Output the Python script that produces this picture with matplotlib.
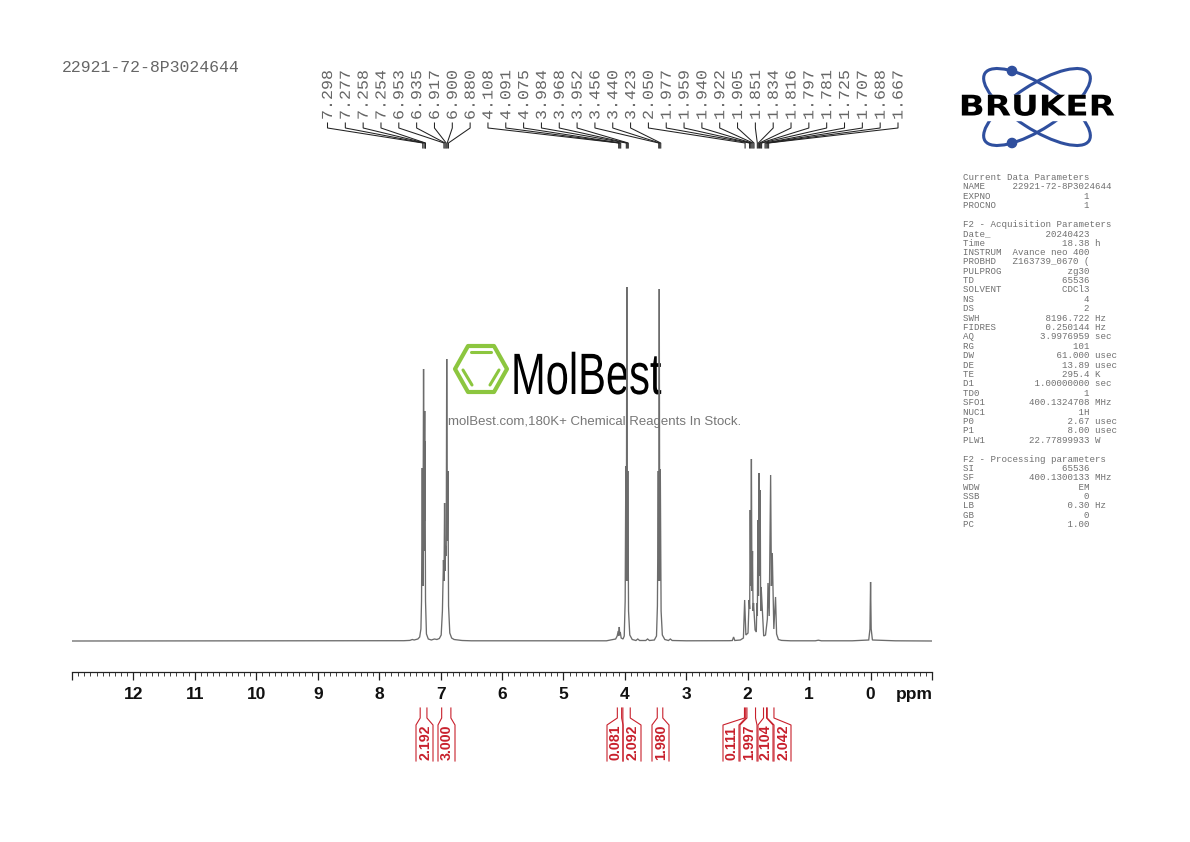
import matplotlib
matplotlib.use("Agg")
import matplotlib.pyplot as plt
import matplotlib.patheffects as pe
from matplotlib.patches import Ellipse, Polygon, Rectangle, Circle
from matplotlib.transforms import Affine2D
import numpy as np

W, H = 1190, 842
GRAY = "#6c6c6c"
RED = "#c8202c"
MONO = ["Liberation Mono", "DejaVu Sans Mono"]
SANS = ["Liberation Sans", "DejaVu Sans"]

spec_ppm = [13.0, 7.60, 7.50, 7.46, 7.43, 7.40, 7.37, 7.34, 7.32, 7.31, 7.298, 7.288, 7.277, 7.267, 7.258, 7.256, 7.254,
            7.245, 7.23, 7.20, 7.15, 7.10, 7.06, 7.02, 6.99, 6.97, 6.953, 6.944, 6.935, 6.926, 6.917, 6.908, 6.900, 6.890,
            6.880, 6.87, 6.85, 6.82, 6.78, 6.72, 6.65, 6.50, 4.30, 4.15, 4.125, 4.108, 4.100, 4.091, 4.083, 4.075, 4.06,
            4.03, 4.01, 3.995, 3.984, 3.976, 3.968, 3.960, 3.952, 3.94, 3.92, 3.88, 3.82, 3.79, 3.76, 3.66, 3.63, 3.60,
            3.52, 3.485, 3.47, 3.456, 3.448, 3.440, 3.432, 3.423, 3.41, 3.39, 3.35, 3.29, 3.26, 3.23, 3.00, 2.30, 2.25,
            2.23, 2.21, 2.12, 2.07, 2.05, 2.03, 1.995, 1.977, 1.968, 1.959, 1.950, 1.940, 1.931, 1.922, 1.913, 1.905,
            1.88, 1.86, 1.851, 1.843, 1.834, 1.825, 1.816, 1.806, 1.797, 1.789, 1.781, 1.74, 1.71, 1.68, 1.67, 1.65,
            1.627, 1.614, 1.60, 1.575, 1.547, 1.53, 1.50, 1.45, 1.30, 0.90, 0.85, 0.80, 0.30, 0.03, 0.01, 0.0, -0.01,
            -0.03, -0.40, -1.0]
spec_int = [0.0, 0.3, 0.6, 1.5, 1.0, 1.5, 2.0, 4.0, 12.0, 40.0, 173.0, 55.0, 272.0, 90.0, 230.0, 120.0, 200.0,
            40.0, 7.0, 2.0, 1.0, 2.0, 1.5, 2.5, 6.0, 30.0, 81.0, 60.0, 138.0, 70.0, 95.0, 85.0, 282.0, 100.0,
            170.0, 35.0, 8.0, 3.0, 1.5, 1.0, 0.5, 0.2, 0.2, 2.0, 5.0, 10.0, 5.0, 14.0, 6.0, 9.0, 3.0,
            2.0, 5.0, 40.0, 175.0, 60.0, 354.0, 60.0, 170.0, 30.0, 6.0, 1.5, 0.5, 2.0, 0.5, 0.5, 2.0, 0.5,
            1.0, 5.0, 35.0, 170.0, 60.0, 352.0, 60.0, 172.0, 30.0, 6.0, 1.5, 0.5, 2.0, 0.5, 0.2, 0.3, 0.5,
            4.0, 0.5, 1.0, 3.0, 41.0, 6.0, 8.0, 41.0, 32.0, 131.0, 55.0, 182.0, 50.0, 90.0, 30.0, 38.0,
            11.0, 9.0, 38.0, 25.0, 121.0, 45.0, 168.0, 65.0, 151.0, 30.0, 54.0, 5.0, 6.0, 22.0, 58.0, 25.0,
            166.0, 55.0, 88.0, 12.0, 44.0, 7.0, 1.5, 0.6, 0.2, 0.2, 0.8, 0.2, 0.2, 1.0, 12.0, 59.0, 12.0,
            1.0, 0.2, 0.0]

peak_labels = ["7.298", "7.277", "7.258", "7.254", "6.953", "6.935", "6.917", "6.900", "6.880", "4.108", "4.091",
               "4.075", "3.984", "3.968", "3.952", "3.456", "3.440", "3.423", "2.050", "1.977", "1.959", "1.940",
               "1.922", "1.905", "1.851", "1.834", "1.816", "1.797", "1.781", "1.725", "1.707", "1.688", "1.667"]

integral_values = ["2.192", "3.000", "0.081", "2.092", "1.980", "0.111", "1.997", "2.104", "2.042"]
integral_left = [7.34, 6.99, 4.13, 4.04, 3.48, 2.06, 2.02, 1.75, 1.69]
integral_right = [7.23, 6.84, 4.06, 3.92, 3.39, 2.04, 1.88, 1.70, 1.58]
integral_outer_l = [416, 438, 607, 623, 652, 723, 740, 758, 774]
integral_outer_r = [433, 455, 623, 641, 669, 739, 757, 773, 791]

major_ticks = list(range(13, -2, -1))
major_labels = ["", "12", "11", "10", "9", "8", "7", "6", "5", "4", "3", "2", "1", "0", ""]
minor_ticks = [13 - i * 0.1 for i in range(141)]

title = "22921-72-8P3024644"

params = [
    ("Current Data Parameters", "", ""),
    ("NAME", "@22921-72-8P3024644", ""),
    ("EXPNO", "1", ""),
    ("PROCNO", "1", ""),
    ("", "", ""),
    ("F2 - Acquisition Parameters", "", ""),
    ("Date_", "20240423", ""),
    ("Time", "18.38", "h"),
    ("INSTRUM", "Avance neo 400", ""),
    ("PROBHD", "Z163739_0670 (", ""),
    ("PULPROG", "zg30", ""),
    ("TD", "65536", ""),
    ("SOLVENT", "CDCl3", ""),
    ("NS", "4", ""),
    ("DS", "2", ""),
    ("SWH", "8196.722", "Hz"),
    ("FIDRES", "0.250144", "Hz"),
    ("AQ", "3.9976959", "sec"),
    ("RG", "101", ""),
    ("DW", "61.000", "usec"),
    ("DE", "13.89", "usec"),
    ("TE", "295.4", "K"),
    ("D1", "1.00000000", "sec"),
    ("TD0", "1", ""),
    ("SFO1", "400.1324708", "MHz"),
    ("NUC1", "1H", ""),
    ("P0", "2.67", "usec"),
    ("P1", "8.00", "usec"),
    ("PLW1", "22.77899933", "W"),
    ("", "", ""),
    ("F2 - Processing parameters", "", ""),
    ("SI", "65536", ""),
    ("SF", "400.1300133", "MHz"),
    ("WDW", "EM", ""),
    ("SSB", "0", ""),
    ("LB", "0.30", "Hz"),
    ("GB", "0", ""),
    ("PC", "1.00", ""),
]


class Stretch(pe.AbstractPathEffect):
    """Stretch a real text artist about a pixel anchor when it is drawn."""

    def __init__(self, x, y, sx, sy):
        super().__init__()
        self.t = Affine2D().translate(-x, -(H - y)).scale(sx, sy).translate(x, H - y)

    def draw_path(self, renderer, gc, tpath, affine, rgbFace=None):
        renderer.draw_path(gc, tpath, affine + self.t, rgbFace)


fig = plt.figure(figsize=(W / 100, H / 100), dpi=100, facecolor="white")


def ppm_x(p):
    return 871 - 61.42 * p


# spectrum axes: bottom spine is the ppm scale
top_px, bot_px = 280, 672
ax = fig.add_axes([72 / W, 1 - bot_px / H, 860 / W, (bot_px - top_px) / H])
ax.set_xlim(13, -1)
ax.set_ylim(-(bot_px - 641), 641 - top_px)
ax.patch.set_alpha(0)
for s in ("top", "left", "right"):
    ax.spines[s].set_visible(False)
ax.spines["bottom"].set_linewidth(0.9)
ax.spines["bottom"].set_color("#222222")
ax.set_yticks([])
ax.set_xticks(major_ticks)
ax.set_xticklabels(major_labels, fontfamily=SANS, fontweight="bold", fontsize=12.5, color="#111111")
ax.set_xticks(minor_ticks, minor=True)
ax.tick_params(axis="x", which="major", length=5.8, width=0.9, pad=5, color="#222222")
ax.tick_params(axis="x", which="minor", length=2.6, width=0.6, color="#222222")
ax.plot(spec_ppm, spec_int, color=GRAY, lw=0.95, solid_joinstyle="miter", zorder=5)
ax.text(-0.71, -53, "ppm", ha="center", va="center", fontfamily=SANS, fontweight="bold", fontsize=12.5, color="#111111")

# overlay in pixel units
ov = fig.add_axes([0, 0, 1, 1], zorder=-1)
ov.set_xlim(0, W)
ov.set_ylim(H, 0)
ov.axis("off")
ov2 = fig.add_axes([0, 0, 1, 1], zorder=10)
ov2.set_xlim(0, W)
ov2.set_ylim(H, 0)
ov2.axis("off")
ov2.patch.set_alpha(0)

ov2.text(62, 68, title, family=MONO, fontsize=11.9, color="#666666", va="center", ha="left")

# peak labels and leaders
n = len(peak_labels)
for i, lab in enumerate(peak_labels):
    xt = 327.5 + i * (898 - 327.5) / (n - 1)
    xp = ppm_x(float(lab))
    t = ov2.text(xt + 0.5, 120, lab, family=MONO, fontsize=11, color="#666666", rotation=90, ha="center", va="bottom")
    t.set_path_effects([Stretch(xt + 0.5, 120, 1.0, 1.09)])
    ov2.plot([xt, xt, xp, xp], [123, 128, 143, 148], color="#222222", lw=0.75, solid_joinstyle="miter")

# integrals
for v, a, b, ol, or_ in zip(integral_values, integral_left, integral_right, integral_outer_l, integral_outer_r):
    for p, o in ((a, ol), (b, or_)):
        x = ppm_x(p)
        ov2.plot([x, x, o, o], [708, 718, 725, 761], color=RED, lw=0.8, solid_joinstyle="miter")
    ov2.text((ol + or_) / 2 + 0.5, 760, v, family=SANS, fontweight="bold", fontsize=10.2, color=RED,
             rotation=90, ha="center", va="bottom")

# parameter table
for i, (name, val, unit) in enumerate(params):
    if val.startswith("@"):
        line = f"{name:<9}{val[1:]}"
    elif val:
        line = f"{name:<8}{val:>15}" + (f" {unit}" if unit else "")
    else:
        line = name
    ov2.text(963, 177.3 + i * 9.39, line, family=MONO, fontsize=6.6, color="#707070", va="center", ha="left")

# Bruker logo
BLUE = "#2f4f9e"
for ang in (33, -33):
    ov.add_patch(Ellipse((1037, 107), 124, 44, angle=ang, fill=False, ec=BLUE, lw=2.2))
for y in (71, 143):
    ov.add_patch(Circle((1012, y), 4.6, color=BLUE))
ov.add_patch(Rectangle((958, 95), 158, 25, color="white", zorder=3))
bt = ov.text(1037, 107.5, "BRUKER", family=["DejaVu Sans"], fontweight="bold", fontsize=20.5, color="black",
             ha="center", va="center", zorder=4)
bt.set_path_effects([Stretch(1037, 107.5, 1.2, 1.0)])

# MolBest watermark
GREEN = "#8cc63f"
cx, cy, rx, ry = 481, 369, 26, 23
hexa = [(cx - rx, cy), (cx - rx / 2, cy - ry), (cx + rx / 2, cy - ry), (cx + rx, cy), (cx + rx / 2, cy + ry),
        (cx - rx / 2, cy + ry)]
ov2.add_patch(Polygon(hexa, closed=True, fill=False, ec=GREEN, lw=3.0, joinstyle="round"))
for (x0, y0), (x1, y1) in (((cx - 10, cy - 17), (cx + 10, cy - 17)),
                           ((cx - 18, cy + 1), (cx - 9, cy + 16)),
                           ((cx + 18, cy + 1), (cx + 9, cy + 16))):
    ov2.plot([x0, x1], [y0, y1], color=GREEN, lw=2.2, solid_capstyle="round")
mt = ov.text(511, 394, "MolBest", family=SANS, fontsize=30, color="black", ha="left", va="baseline")
mt.set_path_effects([Stretch(511, 394, 1.0, 1.4)])
ov.text(448, 421.5, "molBest.com,180K+ Chemical Reagents In Stock.", family=SANS, fontsize=9.5, color="#777777",
        ha="left", va="center")

fig.savefig("out.png", dpi=100, facecolor="white")
